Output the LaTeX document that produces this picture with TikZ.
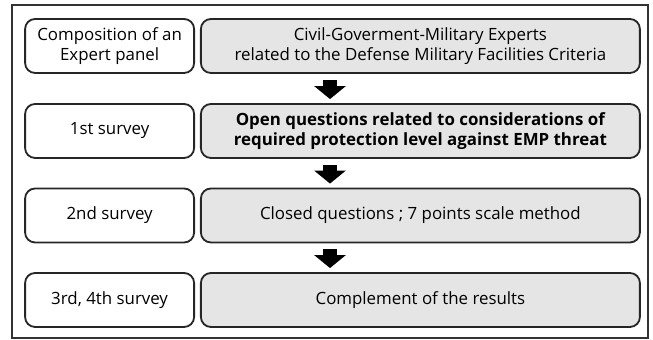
\documentclass[tikz,border=0pt]{standalone}
\usepackage{fontspec}
\setmainfont{Open Sans}
\usetikzlibrary{arrows.meta}
\begin{document}
\begin{tikzpicture}[
			every node/.style={font=\fontsize{12}{14.5}\selectfont, align=center},
			etapa/.style={rectangle, rounded corners=0.25cm, draw=black!85, line width=1.3pt, fill=white, minimum width=4.225cm, minimum height=1.35cm, inner sep=0pt},
			detalle/.style={etapa, fill=black!10, minimum width=10.975cm},
			flecha/.style={draw=black, line width=0.35cm, -{Triangle[width=0.775cm, length=0.325cm]}, shorten <=0.15cm, shorten >=0.1cm},
			marco/.style={draw=black!80, line width=1.3pt}]
		\useasboundingbox (0,0) rectangle (16.325,8.5);
		\draw[marco] (0.3,0.05) rectangle (16.2,8.375);
		\node[etapa] (E1) at (2.74,7.35)    {Composition of an\\Expert panel};
		\node[etapa] (E2) at (2.74,5.225)   {1st survey};
		\node[etapa] (E3) at (2.74,3.1125)  {2nd survey};
		\node[etapa] (E4) at (2.74,1.0)     {3rd, 4th survey};
		\node[detalle] (D1) at (10.51,7.35)   {Civil-Goverment-Military Experts\\related to the Defense Military Facilities Criteria};
		\node[detalle, font=\fontsize{12}{14.5}\selectfont\bfseries] (D2) at (10.51,5.225)  {Open questions related to considerations of\\required protection level against EMP threat};
		\node[detalle] (D3) at (10.51,3.1125) {Closed questions ; 7 points scale method};
		\node[detalle] (D4) at (10.51,1.0)    {Complement of the results};
		\coordinate (eje) at (8.25,0);
		\draw[flecha] (D1.south -| eje) -- (D2.north -| eje);
		\draw[flecha] (D2.south -| eje) -- (D3.north -| eje);
		\draw[flecha] (D3.south -| eje) -- (D4.north -| eje);
	\end{tikzpicture}
\end{document}
